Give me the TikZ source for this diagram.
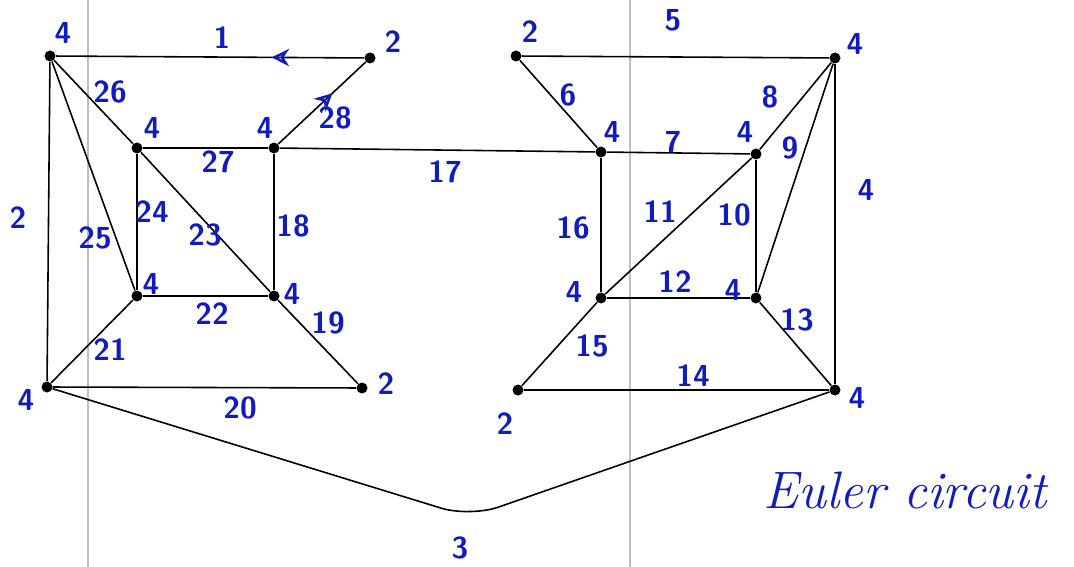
\documentclass[tikz,border=0pt]{standalone}
\usepackage{tikz}
\usetikzlibrary{positioning,decorations.markings,arrows.meta}
\definecolor{ink}{RGB}{18,28,190}

\begin{document}
\begin{tikzpicture}[
    x=0.02cm, y=-0.02cm,
    vert/.style={circle, fill=black, inner sep=0pt, minimum size=0.22cm},
    edge/.style={draw, line width=0.9pt},
    deg/.style={text=ink, font=\LARGE\sffamily\bfseries, inner sep=1pt},
    elab/.style={text=ink, font=\LARGE\sffamily\bfseries, inner sep=1pt},
    paper/.style={draw=black!25, line width=0.6pt},
    dir/.style={postaction={decorate}, decoration={markings, mark=at position #1 with {\arrow[ink, line width=1.4pt]{Stealth[length=3.5mm, width=3.5mm, open]}}}}
]
    \useasboundingbox (0,0) rectangle (1074,567);

    % paper lines
    \draw[paper] (88,0) -- (88,567);
    \draw[paper] (630,0) -- (630,567);

    % Left graph
    \node[vert] (a) at (50,56) {};
    \node[vert] (b) at (370,58) {};
    \node[vert] (c) at (137,148) {};
    \node[vert] (d) at (274,148) {};
    \node[vert] (e) at (137,296) {};
    \node[vert] (f) at (274,296) {};
    \node[vert] (g) at (47,387) {};
    \node[vert] (h) at (362,388) {};

    % Right graph
    \node[vert] (p) at (516,56) {};
    \node[vert] (q) at (835,58) {};
    \node[vert] (r) at (601,152) {};
    \node[vert] (s) at (756,154) {};
    \node[vert] (t) at (601,298) {};
    \node[vert] (u) at (756,298) {};
    \node[vert] (v) at (518,390) {};
    \node[vert] (w) at (835,390) {};

    \coordinate (c3) at (470,517);

    % Edges
    \draw[edge, dir=0.3] (b) -- (a);
    \draw[edge] (a) -- (g);
    \draw[edge] (a) -- (c);
    \draw[edge] (a) -- (e);
    \draw[edge] (c) -- (d);
    \draw[edge] (c) -- (e);
    \draw[edge] (c) -- (f);
    \draw[edge] (d) -- (f);
    \draw[edge, dir=0.62] (d) -- (b);
    \draw[edge] (e) -- (f);
    \draw[edge] (e) -- (g);
    \draw[edge] (f) -- (h);
    \draw[edge] (g) -- (h);
    \draw[edge] (d) -- (r);
    \draw[edge] (p) -- (q);
    \draw[edge] (p) -- (r);
    \draw[edge] (r) -- (s);
    \draw[edge] (s) -- (q);
    \draw[edge] (u) -- (q);
    \draw[edge] (s) -- (u);
    \draw[edge] (s) -- (t);
    \draw[edge] (t) -- (u);
    \draw[edge] (u) -- (w);
    \draw[edge] (v) -- (w);
    \draw[edge] (t) -- (v);
    \draw[edge] (r) -- (t);
    \draw[edge] (q) -- (w);
    \draw[edge, rounded corners=0.6cm] (g) -- (c3) -- (w);

    % Degrees
    \node[deg] (da) at ([shift={(13,-23)}]a) {4};
    \node[deg] (db) at ([shift={(23,-16)}]b) {2};
    \node[deg] (dc) at ([shift={(15,-20)}]c) {4};
    \node[deg] (dd) at ([shift={(-9,-20)}]d) {4};
    \node[deg] (de) at ([shift={(14,-12)}]e) {4};
    \node[deg] (df) at ([shift={(18,-2)}]f) {4};
    \node[deg] (dg) at ([shift={(-21,13)}]g) {4};
    \node[deg] (dh) at ([shift={(24,-4)}]h) {2};
    \node[deg] (dp) at ([shift={(14,-24)}]p) {2};
    \node[deg] (dq) at ([shift={(20,-14)}]q) {4};
    \node[deg] (dr) at ([shift={(11,-20)}]r) {4};
    \node[deg] (ds) at ([shift={(-11,-22)}]s) {4};
    \node[deg] (dt) at ([shift={(-27,-6)}]t) {4};
    \node[deg] (du) at ([shift={(-23,-8)}]u) {4};
    \node[deg] (dv) at ([shift={(-13,34)}]v) {2};
    \node[deg] (dw) at ([shift={(22,8)}]w) {4};

    % Edge order
    \node[elab] (l1) at (222,38) {1};
    \node[elab] (l2) at (18,218) {2};
    \node[elab] (l3) at (460,548) {3};
    \node[elab] (l4) at (866,190) {4};
    \node[elab] (l5) at (673,20) {5};
    \node[elab] (l6) at (568,95) {6};
    \node[elab] (l7) at (673,142) {7};
    \node[elab] (l8) at (770,97) {8};
    \node[elab] (l9) at (790,148) {9};
    \node[elab] (l10) at (734,215) {10};
    \node[elab] (l11) at (660,212) {11};
    \node[elab] (l12) at (675,282) {12};
    \node[elab] (l13) at (797,320) {13};
    \node[elab] (l14) at (693,376) {14};
    \node[elab] (l15) at (592,346) {15};
    \node[elab] (l16) at (573,228) {16};
    \node[elab] (l17) at (445,172) {17};
    \node[elab] (l18) at (293,226) {18};
    \node[elab] (l19) at (328,323) {19};
    \node[elab] (l20) at (240,408) {20};
    \node[elab] (l21) at (110,350) {21};
    \node[elab] (l22) at (212,314) {22};
    \node[elab] (l23) at (205,235) {23};
    \node[elab] (l24) at (152,212) {24};
    \node[elab] (l25) at (95,238) {25};
    \node[elab] (l26) at (110,92) {26};
    \node[elab] (l27) at (218,162) {27};
    \node[elab] (l28) at (335,118) {28};

    \node[text=ink, font=\fontsize{30}{36}\selectfont\itshape] (title) at (905,490) {Euler circuit};
\end{tikzpicture}
\end{document}
